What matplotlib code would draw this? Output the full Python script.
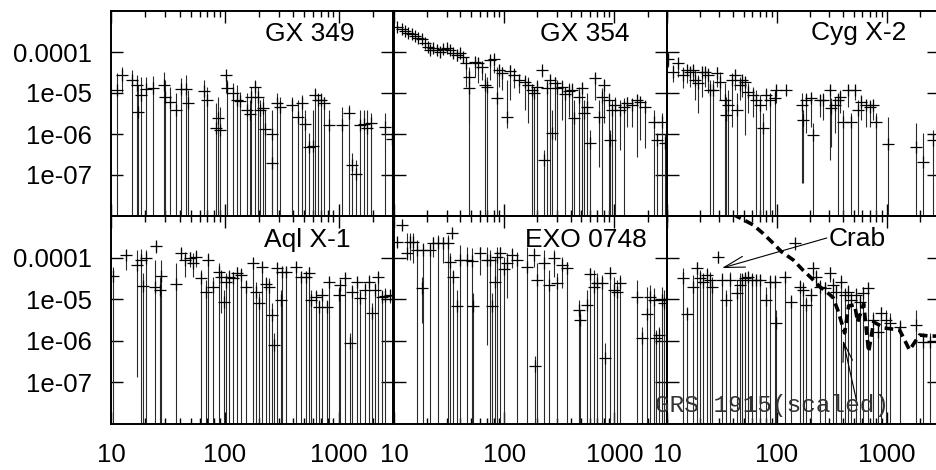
import matplotlib
matplotlib.use("Agg")
import matplotlib.pyplot as plt
from matplotlib.ticker import FixedLocator, LogLocator, NullLocator, NullFormatter

plt.rcParams["font.family"] = ["Liberation Sans", "DejaVu Sans"]

W, H = 936, 470

# each source: channel, flux, top and bottom of the error bar (0 = down to zero)
gx349_x = [11.2, 12.4, 15.4, 16.8, 17.3, 18.5, 20.5, 23.5, 29.1, 29.6,
           32.8, 37.5, 40.9, 45.8, 47.3, 66.2, 69.4, 83.7, 86.5, 90.7,
           102, 104, 117, 127, 136, 155, 166, 171, 183, 194,
           203, 217, 224, 262, 262, 289, 303, 391, 438, 478,
           505, 547, 593, 617, 659, 701, 750, 818, 1070, 1222,
           1306, 1416, 1545, 1675, 1791, 1915, 2557, 2924]
gx349_y = [1.18e-5, 2.75e-5, 2.08e-5, 1.57e-5, 3.4e-6, 8.9e-6, 1.23e-5, 1.30e-5, 1.57e-5, 8.1e-6,
           6.15e-6, 3.85e-6, 1.23e-5, 1.23e-5, 5.8e-6, 1.12e-5, 6.75e-6, 1.43e-6, 2.4e-6, 1.25e-6,
           2.75e-5, 1.30e-5, 9.8e-6, 6.75e-6, 6.4e-6, 3.85e-6, 3.1e-6, 7.8e-6, 1.43e-5, 7.8e-6,
           3.85e-6, 4.2e-6, 1.30e-6, 9.8e-7, 1.93e-7, 5.6e-6, 4.6e-6, 5.1e-6, 2.65e-6, 5.6e-6,
           1.75e-6, 4.9e-7, 5.2e-7, 8.9e-6, 6.75e-6, 6.75e-6, 5.6e-6, 1.66e-6, 1.66e-6, 3.2e-6,
           1.75e-7, 1.06e-7, 1.66e-6, 1.8e-6, 1.37e-6, 1.9e-6, 1.51e-6, 7.4e-7]
gx349_hi = [3.0e-5, 4.4e-5, 3.6e-5, 2.75e-5, 1.57e-5, 2.5e-5, 2.5e-5, 2.6e-5, 3.3e-5, 2.08e-5,
            1.43e-5, 9.8e-6, 2.28e-5, 2.75e-5, 1.18e-5, 2.08e-5, 1.43e-5, 5.6e-6, 8.1e-6, 4.6e-6,
            3.0e-5, 2.08e-5, 1.72e-5, 1.57e-5, 1.08e-5, 9.8e-6, 6.75e-6, 1.43e-5, 2.08e-5, 1.43e-5,
            6.75e-6, 7.4e-6, 3.85e-6, 3.85e-6, 4.9e-7, 9.8e-6, 8.1e-6, 8.1e-6, 6.75e-6, 8.9e-6,
            3.85e-6, 1.04e-6, 3.85e-6, 1.30e-5, 9.8e-6, 9.8e-6, 8.1e-6, 3.85e-6, 4.6e-6, 5.1e-6,
            3.4e-7, 2.3e-7, 3.85e-6, 3.85e-6, 3.85e-6, 3.2e-6, 3.2e-6, 2.0e-6]
gx349_lo = [0, 1.08e-5, 0, 0, 0, 0, 0, 0, 0, 0,
            0, 0, 0, 0, 0, 0, 0, 0, 0, 0,
            9.8e-6, 0, 0, 0, 0, 0, 0, 0, 0, 0,
            0, 0, 0, 0, 0, 0, 0, 0, 0, 0,
            0, 0, 0, 0, 0, 0, 0, 0, 0, 0,
            0, 0, 0, 0, 0, 0, 0, 0]

gx354_x = [10.6, 11.7, 12.6, 13.5, 14.5, 15.5, 16.6, 17.9, 19.1, 20.5,
           21.2, 22.8, 24.4, 26.2, 28.1, 30.1, 32.3, 34.6, 37.1, 39.8,
           42.7, 45.2, 47.5, 48.4, 54.5, 58.4, 62.7, 67.2, 69.5, 74.6,
           80.0, 85.7, 88.8, 95.2, 106, 113, 122, 135, 155, 166,
           179, 185, 198, 220, 228, 244, 262, 271, 291, 301,
           334, 359, 385, 412, 427, 474, 508, 526, 565, 605,
           672, 721, 773, 800, 888, 920, 953, 1021, 1134, 1216,
           1304, 1448, 1607, 1723, 1913, 2279, 2443, 2710, 2850]
gx354_y = [4.15e-4, 3.57e-4, 3.31e-4, 2.96e-4, 2.70e-4, 2.46e-4, 2.24e-4, 2.04e-4, 1.63e-4, 1.35e-4,
           1.12e-4, 1.23e-4, 1.12e-4, 1.02e-4, 1.16e-4, 1.23e-4, 1.12e-4, 9.3e-5, 8.4e-5, 9.3e-5,
           7.7e-5, 5.3e-5, 2.5e-5, 1.30e-5, 5.8e-5, 5.3e-5, 4.4e-5, 1.57e-5, 1.37e-5, 6.4e-5,
           6.6e-5, 7.4e-6, 3.64e-5, 3.0e-5, 2.65e-6, 3.5e-5, 2.75e-5, 2.08e-5, 1.89e-5, 1.57e-5,
           1.18e-5, 9.8e-6, 1.37e-5, 3.64e-5, 2.3e-7, 1.30e-5, 2.08e-5, 1.04e-6, 1.72e-5, 1.30e-5,
           1.43e-5, 9.5e-6, 1.14e-5, 1.18e-5, 2.4e-6, 8.1e-6, 1.30e-5, 3.2e-6, 4.6e-6, 5.9e-7,
           2.28e-5, 2.65e-6, 8.1e-6, 1.57e-5, 6.75e-6, 7.1e-7, 3.85e-6, 5.1e-6, 3.85e-6, 4.6e-6,
           5.6e-6, 5.1e-6, 6.75e-6, 6.15e-6, 4.6e-6, 2.0e-6, 7.1e-7, 2.0e-6, 6.0e-7]
gx354_hi = [4.6e-4, 4.0e-4, 3.7e-4, 3.4e-4, 3.1e-4, 2.8e-4, 2.6e-4, 2.4e-4, 1.9e-4, 1.6e-4,
            1.35e-4, 1.5e-4, 1.4e-4, 1.3e-4, 1.4e-4, 1.5e-4, 1.4e-4, 1.2e-4, 1.1e-4, 1.2e-4,
            1.0e-4, 7.0e-5, 4.4e-5, 2.5e-5, 7.7e-5, 7.0e-5, 5.8e-5, 3.0e-5, 2.5e-5, 7.7e-5,
            8.4e-5, 4.4e-5, 4.8e-5, 4.4e-5, 2.08e-5, 4.8e-5, 4.0e-5, 2.75e-5, 2.75e-5, 2.5e-5,
            1.57e-5, 1.3e-5, 2.08e-5, 4.0e-5, 4.1e-7, 2.08e-5, 2.75e-5, 3.85e-6, 2.5e-5, 2.08e-5,
            2.08e-5, 1.43e-5, 1.72e-5, 1.72e-5, 6.75e-6, 1.43e-5, 1.72e-5, 6.75e-6, 9.8e-6, 1.25e-6,
            2.75e-5, 6.75e-6, 1.3e-5, 2.08e-5, 9.8e-6, 1.25e-6, 6.75e-6, 8.1e-6, 6.75e-6, 7.4e-6,
            8.1e-6, 7.4e-6, 9.0e-6, 8.1e-6, 6.75e-6, 3.85e-6, 1.04e-6, 3.2e-6, 1.0e-6]
gx354_lo = [3.7e-4, 3.2e-4, 2.9e-4, 2.6e-4, 2.3e-4, 2.1e-4, 1.9e-4, 1.7e-4, 1.35e-4, 1.1e-4,
            9.0e-5, 1.0e-4, 8.5e-5, 7.5e-5, 9.0e-5, 9.5e-5, 8.5e-5, 7.0e-5, 6.0e-5, 7.0e-5,
            5.5e-5, 1.4e-5, 1.82e-6, 0, 2.5e-5, 1.72e-5, 2.08e-5, 0, 0, 2.08e-5,
            3.0e-5, 0, 1.43e-5, 1.18e-5, 1.37e-6, 6.75e-6, 1.3e-5, 9.8e-6, 3.85e-6, 1.82e-6,
            0, 0, 0, 2.5e-5, 0, 0, 0, 0, 7.1e-7, 0,
            2.2e-6, 0, 2.65e-6, 0, 0, 0, 0, 0, 0, 0,
            6.75e-6, 1.6e-7, 0, 1.82e-6, 0, 0, 0, 0, 4.1e-7, 0,
            1.51e-6, 1.51e-6, 2.8e-7, 7.1e-7, 4.5e-7, 0, 0, 0, 0]

cyg_x = [10.3, 11.4, 12.7, 14.1, 15.1, 16.2, 17.3, 18.0, 19.3, 20.7,
         22.1, 23.8, 24.6, 26.4, 28.3, 30.3, 33.7, 34.8, 36.1, 38.7,
         41.5, 43.0, 46.1, 47.8, 51.2, 54.8, 60.9, 65.3, 70.0, 75.1,
         80.5, 86.3, 95.9, 99.3, 122, 168, 173, 186, 207, 214,
         246, 264, 303, 314, 337, 361, 374, 401, 445, 477,
         512, 548, 589, 653, 700, 751, 805, 1028, 1862, 2138,
         2636]
cyg_y = [6.6e-5, 3.31e-5, 5.3e-5, 2.75e-5, 3.64e-5, 3.31e-5, 3.64e-5, 2.08e-5, 1.72e-5, 3.31e-5,
         3.31e-5, 2.75e-5, 1.18e-5, 1.18e-5, 3.0e-5, 1.89e-5, 6.75e-6, 2.9e-6, 5.1e-6, 2.08e-5,
         2.75e-5, 3.85e-6, 1.57e-5, 2.08e-5, 1.89e-5, 1.08e-5, 8.9e-6, 6.75e-6, 5.1e-6, 1.37e-6,
         8.9e-6, 6.75e-6, 7.4e-6, 1.18e-5, 1.18e-5, 5.1e-6, 2.2e-6, 6.75e-6, 7.4e-6, 9.5e-7,
         6.75e-6, 6.75e-6, 1.18e-5, 4.2e-6, 5.1e-6, 6.75e-6, 8.1e-6, 2.0e-6, 1.18e-5, 2.0e-6,
         1.18e-5, 3.85e-6, 6.15e-6, 5.1e-6, 4.6e-6, 5.1e-6, 2.0e-6, 5.6e-7, 4.9e-7, 2.04e-7,
         7.1e-7]
cyg_hi = [9.3e-5, 4.8e-5, 7.0e-5, 4.4e-5, 4.8e-5, 4.4e-5, 4.8e-5, 3.64e-5, 2.75e-5, 4.4e-5,
          4.4e-5, 4.0e-5, 2.08e-5, 2.08e-5, 4.4e-5, 3.31e-5, 1.72e-5, 8.1e-6, 1.18e-5, 3.0e-5,
          3.64e-5, 9.8e-6, 2.5e-5, 2.75e-5, 2.5e-5, 1.72e-5, 1.43e-5, 1.18e-5, 8.9e-6, 3.2e-6,
          1.3e-5, 9.8e-6, 1.18e-5, 1.57e-5, 1.43e-5, 9.8e-6, 3.85e-6, 9.8e-6, 9.8e-6, 1.82e-6,
          8.9e-6, 9.8e-6, 1.57e-5, 7.4e-6, 8.1e-6, 9.8e-6, 1.18e-5, 3.85e-6, 1.57e-5, 3.2e-6,
          1.57e-5, 6.75e-6, 8.9e-6, 6.75e-6, 6.75e-6, 6.75e-6, 3.2e-6, 2.65e-6, 1.82e-6, 1.04e-6,
          1.25e-6]
cyg_lo = [4.4e-5, 1.89e-5, 2.5e-5, 1.3e-5, 1.72e-5, 1.43e-5, 1.89e-5, 6.75e-6, 3.2e-6, 8.1e-6,
          1.43e-5, 9.8e-6, 0, 0, 1.43e-5, 6.75e-6, 0, 0, 0, 1.51e-6,
          1.18e-5, 0, 6.75e-6, 8.1e-6, 9.5e-7, 3.2e-6, 2.65e-6, 0, 0, 0,
          3.85e-6, 0, 0, 5.6e-6, 8.9e-6, 6.3e-8, 6.3e-8, 1.04e-6, 1.51e-6, 0,
          2.65e-6, 2.2e-6, 2.3e-7, 4.9e-7, 1.04e-6, 0, 3.2e-6, 0, 4.6e-6, 0,
          6.75e-6, 0, 2.2e-6, 1.51e-6, 1.51e-6, 2.2e-6, 0, 0, 0, 0,
          0]

aql_x = [10.5, 13.5, 17.0, 18.5, 19.2, 20.5, 24.2, 25.1, 26.8, 27.7,
         37.5, 41.4, 44.3, 49.0, 52.4, 56.0, 61.9, 68.5, 70.8, 78.3,
         89.5, 92.6, 99.0, 102, 109, 117, 129, 138, 153, 175,
         187, 200, 214, 229, 245, 262, 271, 289, 310, 320,
         342, 418, 463, 512, 547, 566, 626, 669, 715, 791,
         818, 1000, 1035, 1144, 1264, 1306, 1445, 1545, 1711, 1829,
         1956, 2091, 2236, 2390, 2557, 2827]
aql_y = [3.6e-5, 1.15e-4, 6.6e-5, 8.8e-5, 2.07e-5, 9.6e-5, 2.0e-5, 1.9e-4, 1.66e-5, 3.6e-5,
         2.32e-5, 1.27e-4, 8.8e-5, 9.6e-5, 7.3e-5, 1.05e-4, 3.2e-5, 1.52e-5, 8.8e-5, 2.0e-5,
         4.6e-5, 3.5e-5, 8.7e-6, 2.64e-5, 3.5e-5, 3.2e-5, 4.2e-5, 3.8e-5, 2.0e-5, 7.3e-5,
         1.52e-5, 8.0e-6, 6.05e-5, 2.32e-5, 2.0e-5, 4.2e-6, 7.9e-7, 5.5e-5, 9.6e-6, 4.6e-5,
         4.6e-5, 6.05e-5, 3.5e-5, 3.5e-5, 4.2e-5, 9.6e-6, 1.15e-5, 6.6e-6, 1.26e-5, 6.6e-6,
         2.64e-5, 1.26e-5, 2.19e-5, 3.2e-5, 9.0e-7, 1.52e-5, 2.64e-5, 1.05e-5, 1.66e-5, 2.64e-5,
         4.6e-6, 1.66e-5, 3.5e-5, 1.15e-5, 1.19e-5, 1.26e-5]
aql_hi = [6.05e-5, 1.52e-4, 1.52e-4, 1.58e-4, 4.2e-5, 1.52e-4, 8.8e-5, 2.42e-4, 3.5e-5, 8.8e-5,
          7.3e-5, 1.67e-4, 1.39e-4, 1.39e-4, 1.27e-4, 1.52e-4, 5.0e-5, 2.9e-5, 1.27e-4, 3.5e-5,
          7.3e-5, 5.0e-5, 1.66e-5, 4.2e-5, 5.0e-5, 4.6e-5, 6.05e-5, 5.5e-5, 2.9e-5, 9.6e-5,
          2.64e-5, 1.38e-5, 8.0e-5, 3.5e-5, 3.2e-5, 8.0e-6, 1.51e-6, 7.3e-5, 1.66e-5, 6.05e-5,
          6.05e-5, 8.0e-5, 4.6e-5, 4.6e-5, 6.05e-5, 1.66e-5, 1.66e-5, 9.6e-6, 1.82e-5, 9.6e-6,
          3.5e-5, 2.0e-5, 2.9e-5, 4.2e-5, 1.51e-6, 2.19e-5, 3.5e-5, 1.66e-5, 2.4e-5, 3.8e-5,
          8.0e-6, 2.4e-5, 4.6e-5, 1.66e-5, 1.82e-5, 1.66e-5]
aql_lo = [0, 5.0e-5, 1.37e-7, 0, 0, 0, 0, 1.27e-4, 0, 0,
          0, 8.8e-5, 3.5e-5, 6.05e-5, 3.5e-5, 6.05e-5, 0, 0, 0, 0,
          0, 4.6e-6, 0, 0, 0, 0, 0, 0, 0, 0,
          0, 0, 0, 0, 0, 0, 0, 0, 0, 0,
          0, 0, 0, 0, 0, 0, 0, 0, 0, 0,
          0, 0, 0, 0, 0, 0, 0, 0, 0, 0,
          0, 0, 0, 0, 0, 8.0e-6]

exo_x = [10.6, 11.7, 13.0, 14.0, 15.0, 16.1, 17.9, 18.5, 21.2, 22.8,
         25.3, 28.1, 31.2, 33.4, 32.3, 34.6, 37.1, 39.8, 45.8, 50.8,
         52.6, 60.5, 69.5, 74.6, 77.2, 82.8, 85.7, 92.0, 98.6, 106,
         117, 130, 161, 185, 191, 198, 228, 253, 281, 301,
         334, 371, 474, 491, 565, 605, 649, 695, 773, 828,
         920, 986, 1057, 1134, 1607, 1786, 1982, 2124, 2279, 2360,
         2529, 2711, 2805]
exo_y = [2.42e-4, 6.1e-4, 1.27e-4, 2.42e-4, 2.42e-4, 1.52e-4, 1.89e-5, 1.52e-4, 1.52e-4, 2.2e-4,
         2.2e-4, 2.2e-4, 2.2e-4, 3.97e-4, 8.0e-5, 3.5e-5, 7.0e-6, 8.8e-5, 8.8e-5, 8.4e-5,
         7.0e-6, 1.27e-4, 8.8e-5, 8.8e-5, 7.0e-6, 2.64e-5, 1.05e-4, 1.27e-4, 5.2e-5, 7.3e-5,
         1.15e-4, 8.8e-5, 6.05e-5, 1.15e-4, 2.48e-7, 2.9e-5, 7.3e-5, 2.19e-5, 9.6e-5, 2.5e-5,
         6.6e-5, 5.5e-5, 5.5e-6, 3.16e-6, 7.3e-6, 3.96e-5, 2.0e-5, 2.4e-5, 2.4e-5, 3.8e-7,
         4.2e-5, 1.66e-5, 1.52e-5, 2.5e-5, 1.15e-5, 1.19e-6, 4.3e-6, 1.15e-5, 9.6e-6, 1.15e-6,
         1.38e-6, 9.6e-6, 8.0e-6]
exo_hi = [3.18e-4, 8.0e-4, 3.83e-4, 3.83e-4, 3.83e-4, 2.65e-4, 3.5e-5, 2.2e-4, 2.2e-4, 3.18e-4,
          3.49e-4, 3.18e-4, 3.49e-4, 5.06e-4, 1.27e-4, 5.0e-5, 1.66e-5, 2.01e-4, 1.83e-4, 1.67e-4,
          1.38e-5, 1.83e-4, 1.83e-4, 1.52e-4, 1.38e-5, 1.05e-4, 1.83e-4, 1.83e-4, 1.05e-4, 1.27e-4,
          1.67e-4, 1.39e-4, 1.83e-4, 1.67e-4, 4.2e-7, 7.3e-5, 1.52e-4, 5.0e-5, 1.52e-4, 4.2e-5,
          1.05e-4, 8.0e-5, 9.6e-6, 5.5e-6, 1.66e-5, 5.5e-5, 5.0e-5, 4.2e-5, 3.8e-5, 8.7e-7,
          6.05e-5, 3.5e-5, 2.9e-5, 3.8e-5, 2.9e-5, 2.19e-6, 2.0e-5, 2.19e-5, 1.82e-5, 1.82e-6,
          2.19e-6, 2.0e-5, 1.66e-5]
exo_lo = [1.83e-4, 4.6e-4, 8.8e-5, 8.8e-5, 7.3e-5, 0, 2.63e-6, 0, 0, 1.05e-4,
          0, 7.3e-5, 0, 2.9e-4, 0, 0, 0, 0, 0, 0,
          0, 3.8e-5, 7.9e-7, 0, 0, 0, 0, 0, 0, 1.05e-5,
          5.5e-5, 0, 0, 6.05e-5, 0, 0, 0, 0, 3.5e-5, 0,
          1.82e-5, 0, 0, 0, 0, 0, 0, 0, 0, 0,
          0, 0, 0, 0, 0, 0, 0, 0, 0, 0,
          0, 0, 0]

crab_x = [14.1, 15.1, 17.3, 18.6, 19.9, 21.4, 22.9, 24.6, 25.5, 29.3,
          31.4, 34.8, 37.4, 43.0, 46.1, 47.8, 51.2, 54.8, 58.9, 65.3,
          70.0, 80.5, 86.3, 95.9, 99.3, 118, 136, 146, 162, 173,
          186, 207, 214, 229, 246, 273, 303, 325, 348, 387,
          415, 445, 477, 530, 569, 610, 676, 751, 834, 895,
          993, 1065, 1312, 1862, 2138, 2460]
crab_y = [3.2e-5, 4.4e-6, 2.0e-5, 5.5e-5, 3.2e-5, 2.64e-5, 3.8e-5, 2.9e-5, 2.0e-5, 1.01e-4,
          2.9e-5, 9.6e-6, 2.9e-5, 1.38e-5, 2.19e-5, 2.9e-5, 3.2e-5, 3.5e-5, 2.9e-5, 2.9e-5,
          2.9e-5, 9.6e-6, 2.64e-5, 2.64e-5, 2.63e-6, 3.5e-5, 8.7e-6, 2.2e-4, 2.0e-5, 1.66e-5,
          7.3e-6, 1.26e-5, 5.5e-5, 3.5e-5, 2.0e-5, 1.82e-5, 4.2e-5, 2.19e-5, 1.52e-5, 2.64e-5,
          1.26e-5, 1.52e-5, 9.6e-6, 1.26e-5, 8.7e-6, 1.38e-5, 1.82e-5, 3.16e-6, 1.66e-6, 4.6e-6,
          3.16e-6, 2.63e-6, 2.19e-6, 2.4e-6, 9.5e-7, 9.5e-7]
crab_hi = [5.5e-5, 6.6e-6, 3.8e-5, 8.0e-5, 5.0e-5, 4.2e-5, 5.5e-5, 4.6e-5, 3.5e-5, 1.39e-4,
           4.2e-5, 1.66e-5, 4.6e-5, 2.9e-5, 4.2e-5, 4.2e-5, 4.2e-5, 4.6e-5, 4.2e-5, 3.8e-5,
           3.8e-5, 2.0e-5, 3.8e-5, 3.8e-5, 5.5e-6, 4.6e-5, 1.26e-5, 2.9e-4, 2.9e-5, 2.64e-5,
           1.15e-5, 1.82e-5, 8.0e-5, 5.0e-5, 2.9e-5, 2.64e-5, 6.05e-5, 3.2e-5, 2.19e-5, 3.8e-5,
           1.82e-5, 2.19e-5, 1.52e-5, 1.82e-5, 1.26e-5, 2.0e-5, 2.4e-5, 5.0e-6, 2.63e-6, 6.6e-6,
           5.5e-6, 4.6e-6, 3.16e-6, 5.5e-6, 1.51e-6, 1.51e-6]
crab_lo = [0, 0, 0, 0, 0, 0, 0, 0, 0, 7.3e-5,
           0, 0, 0, 0, 0, 0, 0, 0, 0, 0,
           0, 0, 0, 0, 0, 0, 0, 1.52e-4, 0, 0,
           0, 0, 3.5e-5, 2.0e-5, 0, 0, 2.64e-5, 0, 0, 0,
           0, 0, 0, 0, 0, 0, 0, 0, 0, 0,
           0, 0, 0, 0, 0, 0]

# GRS 1915 spectrum, rescaled onto the Crab panel
grs_x = [40, 61, 75, 93, 110, 141, 173, 207, 246, 283, 325, 359, 415, 451, 512, 545,
         618, 686, 762, 959, 1313, 1618, 1995, 2460, 2900]
grs_y = [1.1e-3, 6.1e-4, 3.8e-4, 2.2e-4, 1.39e-4, 8.8e-5, 5.0e-5, 3.2e-5, 2.0e-5, 1.52e-5,
         1.1e-5, 5.5e-6, 1.54e-6, 6.9e-6, 7.3e-6, 2.83e-6, 7.7e-6, 5.4e-7, 2.83e-6, 2.03e-6,
         1.82e-6, 6.0e-7, 1.38e-6, 1.30e-6, 1.3e-6]

xtick_vals = [10, 100, 1000]
xtick_labels = ["10", "100", "1000"]
ytick_vals = [1e-7, 1e-6, 1e-5, 1e-4]
ytick_labels = ["1e-07", "1e-06", "1e-05", "0.0001"]

FS = 18.5


def px_box(left, top, right, bottom):
    return [left / W, 1 - bottom / H, (right - left) / W, (bottom - top) / H]


def setup_axes(ax, left_col, bottom_row):
    ax.set_xscale("log")
    ax.set_yscale("log")
    ax.set_xlim(10, 3000)
    ax.set_ylim(1e-8, 1e-3)
    ax.xaxis.set_major_locator(FixedLocator(xtick_vals))
    ax.xaxis.set_minor_locator(LogLocator(base=10, subs=range(2, 10)))
    ax.xaxis.set_minor_formatter(NullFormatter())
    ax.yaxis.set_major_locator(FixedLocator(ytick_vals))
    ax.yaxis.set_minor_locator(NullLocator())
    ax.tick_params(which="both", direction="in", top=True, right=True,
                   width=1.0, labelsize=FS, pad=13.7, colors="black")
    ax.tick_params(which="major", length=8.8)
    ax.tick_params(which="minor", length=4.2)
    ax.set_xticklabels(xtick_labels if bottom_row else [])
    ax.set_yticklabels(ytick_labels if left_col else [])
    for s in ax.spines.values():
        s.set_linewidth(1.4)


def draw_source(ax, x, y, hi, lo):
    ax.vlines(x, lo, hi, colors="#2a2a2a", linewidth=0.8)
    ax.plot(x, y, linestyle="none", marker="+", color="black",
            markersize=8.6, markeredgewidth=0.9)


def main():
    fig = plt.figure(figsize=(W / 100, H / 100), dpi=100)

    panels = [
        (px_box(111, 11, 393, 216), True, False, (gx349_x, gx349_y, gx349_hi, gx349_lo)),
        (px_box(394, 11, 667, 216), False, False, (gx354_x, gx354_y, gx354_hi, gx354_lo)),
        (px_box(667, 11, 939, 216), False, False, (cyg_x, cyg_y, cyg_hi, cyg_lo)),
        (px_box(111, 216, 393, 424), True, True, (aql_x, aql_y, aql_hi, aql_lo)),
        (px_box(394, 216, 667, 424), False, True, (exo_x, exo_y, exo_hi, exo_lo)),
        (px_box(667, 216, 939, 424), False, True, (crab_x, crab_y, crab_hi, crab_lo)),
    ]
    axes = []
    for box, left_col, bottom_row, data in panels:
        ax = fig.add_axes(box)
        ax.set_facecolor("none")
        draw_source(ax, *data)
        setup_axes(ax, left_col, bottom_row)
        axes.append(ax)

    crab_ax = axes[5]
    crab_ax.plot(grs_x, grs_y, color="black", linewidth=2.6, dashes=(2.4, 1.4))

    # source names, right-aligned in each panel
    names = [("GX 349", 355, 41), ("GX 354", 630, 41), ("Cyg X-2", 906, 40),
             ("Aql X-1", 350, 247), ("EXO 0748", 647, 247)]
    for text, xr, yb in names:
        fig.text(xr / W, 1 - yb / H, text, ha="right", va="baseline", fontsize=19)
    fig.text(829 / W, 1 - 246 / H, "Crab", ha="left", va="baseline", fontsize=19)

    crab_ax.annotate("", xy=(31.6, 5.6e-5), xytext=(285, 2.96e-4),
                     arrowprops=dict(arrowstyle="->,head_length=1.5,head_width=0.4",
                                     color="black", linewidth=0.8,
                                     shrinkA=0, shrinkB=0))
    crab_ax.annotate("", xy=(401, 1.04e-6), xytext=(530, 3.8e-8),
                     arrowprops=dict(arrowstyle="->,head_length=1.4,head_width=0.35",
                                     color="black", linewidth=0.8,
                                     shrinkA=0, shrinkB=0))
    fig.text(655 / W, 1 - 412 / H, "GRS 1915(scaled)", ha="left", va="baseline",
             fontsize=17.6, family=["Liberation Mono", "DejaVu Sans Mono"], color="#333333")

    fig.savefig("out.png", dpi=100)


if __name__ == "__main__":
    main()
